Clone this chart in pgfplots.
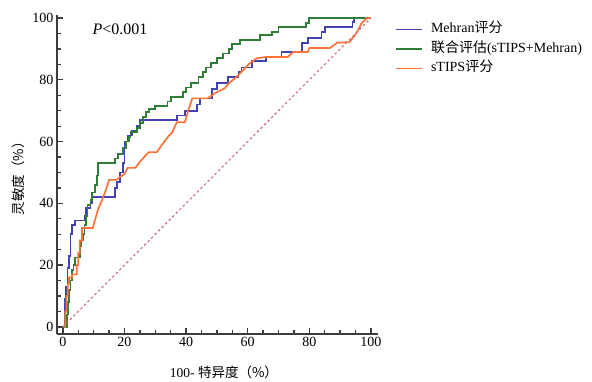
\documentclass[border=0pt]{standalone}
\usepackage{pgfplots}
\pgfplotsset{compat=1.18}
\usepackage{fontspec}
\setmainfont{Liberation Serif}
\newfontfamily\cjk{Noto Sans CJK SC}
\definecolor{cblue}{RGB}{66,66,178}
\definecolor{cgreen}{RGB}{46,126,56}
\definecolor{corange}{RGB}{255,114,56}
\definecolor{cdiag}{RGB}{192,112,124}
\definecolor{caxis}{RGB}{60,60,60}
\begin{document}
\begin{tikzpicture}
\path[use as bounding box] (0,0) rectangle (592pt,382pt);
\begin{axis}[
  at={(57pt,48pt)}, anchor=south west,
  scale only axis, width=321pt, height=319pt,
  xmin=-1.9, xmax=102.3, ymin=-2.3, ymax=101,
  axis lines*=left,
  axis line style={caxis, line width=2pt},
  every tick/.style={caxis, line width=1.3pt},
  major tick length=6pt, minor tick length=3.5pt,
  tick align=inside,
  xtick={0,20,...,100}, ytick={0,20,...,100},
  minor x tick num=3, minor y tick num=3,
  /pgf/number format/assume math mode=true,
  tick label style={font=\fontsize{14}{15}\selectfont},
  clip=false,
  xlabel={\fontsize{13.5}{14}\selectfont 100- {\cjk 特异度（\%）}},
  xlabel style={at={(rel axis cs:0.52,-0.119)}, anchor=center},
  ylabel={\fontsize{13.5}{14}\selectfont\cjk 灵敏度（\%）},
  ylabel style={at={(rel axis cs:-0.1215,0.498)}, anchor=center, rotate=0},
  legend style={at={(rel axis cs:1.044,0.985)}, anchor=north west, draw=none, fill=none,
     font=\fontsize{14}{15}\selectfont, row sep=4.5pt,
     nodes={inner sep=1pt, text height=10pt, text depth=3pt}},
  legend cell align=left,
  legend image code/.code={\draw[#1] (0pt,0pt) -- (26pt,0pt);},
  /tikz/every odd column/.style={column sep=7pt},
]
\addplot[cblue, line width=1.7pt] coordinates {
(0,0)(0.7,0)(0.7,9)(1,9)(1,13)(1.5,13)(1.5,19)(2,19)(2,23)(2.5,23)(2.5,30)(3,30)(3,33)(4,33)(4,34.5)(7,34.5)(7,36)(7.5,36)(7.5,38.5)(9,38.5)(9,40)(9.5,40)(9.5,42)(17,42)(17,45)(17.5,45)(17.5,47)(18.5,47)(18.5,50)(19.5,50)(19.5,53)(20,53)(20,60)(21,60)(21,62)(22.5,62)(22.5,63.5)(24,63.5)(24,65)(25,65)(25,67)(37,67)(37,68.5)(39.6,68.5)(39.6,70)(43.5,70)(43.5,72)(44.5,72)(44.5,74)(48.5,74)(48.5,77)(50,77)(50,79)(53.5,79)(53.5,81)(57,81)(57,82.5)(58,82.5)(58,84)(61.5,84)(61.5,86)(66,86)(66,87.4)(71,87.4)(71,89)(77.6,89)(77.6,92)(79.5,92)(79.5,93.5)(84,93.5)(84,95.5)(85,95.5)(85,97)(94,97)(94,98.7)(94.5,98.7)(94.5,100)(100,100)
};
\addlegendentry{Mehran{\cjk 评分}}
\addplot[cgreen, line width=1.7pt] coordinates {
(0,0)(1.3,0)(1.3,4)(1.7,4)(1.7,8)(2,8)(2,12)(2.5,12)(2.5,15)(3,15)(3,18.5)(3.5,18.5)(3.5,20)(4,20)(4,22.5)(5.5,22.5)(5.5,26)(6,26)(6,28)(6.5,28)(6.5,30)(7,30)(7,33)(7.5,33)(7.5,36)(8,36)(8,39.5)(9,39.5)(9,41)(9.5,41)(9.5,43.5)(10.5,43.5)(10.5,46)(11,46)(11,49)(11.5,49)(11.5,53)(17,53)(17,54.5)(18,54.5)(18,56)(19.5,56)(19.5,58)(20.5,58)(20.5,60)(21.5,60)(21.5,61.5)(22,61.5)(22,63)(24,63)(24,64.5)(25,64.5)(25,66)(26,66)(26,68)(27,68)(27,69.5)(28,69.5)(28,70.5)(30,70.5)(30,71.5)(34,71.5)(34,73)(35,73)(35,74.5)(39,74.5)(39,76)(40,76)(40,77.5)(41.5,77.5)(41.5,79)(44,79)(44,81)(45.5,81)(45.5,82.5)(46.5,82.5)(46.5,84)(48,84)(48,85.5)(50,85.5)(50,87)(52,87)(52,88.5)(54,88.5)(54,90)(55,90)(55,91.5)(57.5,91.5)(57.5,93)(64,93)(64,94.5)(68,94.5)(68,95.5)(70,95.5)(70,97)(79,97)(79,98.5)(80,98.5)(80,100)(100,100)
};
\addlegendentry{{\cjk 联合评估}(sTIPS+Mehran)}
\addplot[corange, line width=1.7pt] coordinates {
(0,0)(0.8,0)(0.8,5)(1.2,5)(1.2,10)(1.6,10)(1.6,14)(2,14)(2,16)(3,16)(3,17)(4.5,17)(4.5,20)(5,20)(5,24)(5.5,24)(5.5,28)(6.2,28)(6.2,32)(9.7,32)(11.4,38)(12.7,41)(14.2,45)(15,47.6)(17.5,47.6)(18.5,48.5)(20,49.5)(21,51.5)(23.5,51.5)(25,53.5)(26,54.5)(27,55.7)(28,56.6)(30.5,56.6)(31.5,58)(32.2,59)(34.5,62)(35.5,63)(37,66.3)(39.6,66.3)(41,71)(42,74)(47,74)(49.4,75.7)(52.6,77.3)(54,79)(56.5,81)(58.4,83)(60.7,85.4)(63,87)(66,87.4)(73,87.4)(74.7,89)(79.5,89)(80,90.3)(86.7,90.3)(89,92)(93,92.2)(94.8,94.5)(95.8,96)(97,98.4)(98.7,100)(100,100)
};
\addlegendentry{sTIPS{\cjk 评分}}
\addplot[cdiag, line width=1.1pt, dash pattern=on 2.5pt off 2.5pt, forget plot] coordinates {(0,0)(100,100)};
\node[anchor=west, font=\fontsize{16}{18}\selectfont, inner sep=0pt] at (rel axis cs:0.11,0.955) {\textit{P}<0.001};
\end{axis}
\end{tikzpicture}
\end{document}
